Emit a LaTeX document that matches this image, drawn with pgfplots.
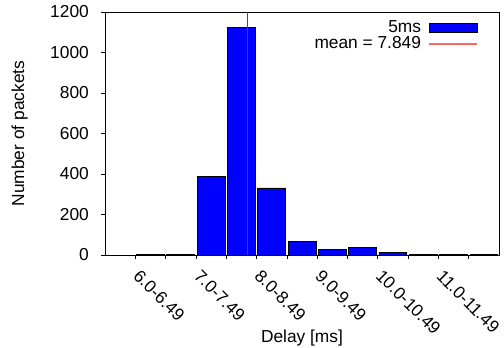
\documentclass[border=0pt]{standalone}
\usepackage{pgfplots}
\pgfplotsset{compat=1.18}
\usepackage{fontspec}
\setmainfont{Liberation Sans}
\definecolor{meanred}{RGB}{255,0,0}
\definecolor{legred}{RGB}{255,100,100}
\begin{document}
\fontsize{17.4}{20}\selectfont
\begin{tikzpicture}
\useasboundingbox (0,0) rectangle (504bp,348bp);
\begin{axis}[
  at={(105bp,93bp)}, anchor=south west,
  scale only axis, width=394bp, height=243bp,
  xmin=0, xmax=13, ymin=0, ymax=1200,
  ytick={0,200,...,1200},
  xtick={1,...,12},
  xticklabels={6.0-6.49,,7.0-7.49,,8.0-8.49,,9.0-9.49,,10.0-10.49,,11.0-11.49,},
  tick align=outside, xtick pos=left, ytick pos=left,
  major tick length=4bp,
  tick style={black, line width=0.6bp},
  axis line style={line width=0.8bp},
  /pgf/number format/assume math mode=true,
  /pgf/number format/1000 sep={},
  yticklabel style={anchor=east, inner sep=0pt, xshift=-12bp},
  xticklabel style={xshift=-3bp, yshift=-18bp, rotate=-45, anchor=base west, inner sep=0pt},
  xlabel={Delay [ms]},
  ylabel={Number of packets},
  xlabel style={at={(axis description cs:0.5,-0.362)}, anchor=base, inner sep=0pt},
  ylabel style={at={(axis description cs:-0.205,0.5)}, anchor=base, inner sep=0pt},
  legend style={draw=none, fill=none, at={(axis description cs:0.9467,0.975)}, anchor=north east, inner sep=0pt, row sep=-2bp, nodes={inner xsep=4bp, inner ysep=2bp}, /tikz/column 1/.style={column sep=3bp}},
  legend cell align=right,
  legend plot pos=right,
]
\addplot[ybar, bar width=0.92, bar shift=0pt, fill=blue, draw=black, line width=0.8bp,
  legend image code/.code={\draw[fill=blue, draw=black, line width=0.8bp] (0bp,-4.5bp) rectangle (48bp,4.5bp);}]
  coordinates {(1.5,1) (2.5,1) (3.5,390) (4.5,1122) (5.5,331) (6.5,66) (7.5,26) (8.5,36) (9.5,13) (10.5,3) (11.5,3) (12.5,2)};
\addlegendentry{5ms}
\addplot[color=meanred, line width=1bp,
  legend image code/.code={\draw[color=legred, line width=1.8bp] (0bp,0bp) -- (48bp,0bp);}]
  coordinates {(4.698,0) (4.698,1200)};
\addlegendentry{mean = 7.849}
\end{axis}
\end{tikzpicture}
\end{document}
